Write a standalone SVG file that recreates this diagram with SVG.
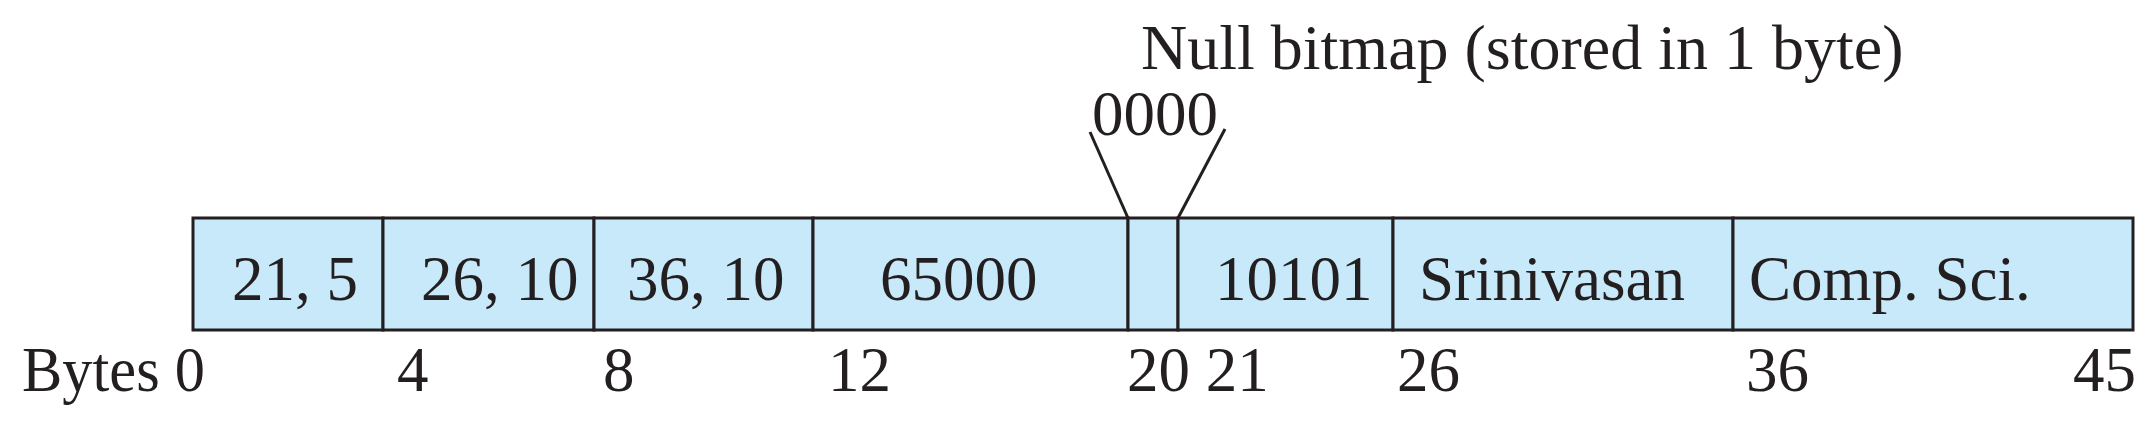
<svg xmlns="http://www.w3.org/2000/svg" width="2156" height="429" viewBox="0 0 2156 429">
<style>
.t{font-family:"Liberation Serif","Times New Roman",serif;font-size:63px;fill:#231F20}
.cell{fill:#C8E9F9;stroke:#231F20;stroke-width:3}
.ln{stroke:#231F20;stroke-width:3;fill:none}
</style>
<rect width="2156" height="429" fill="#FFFFFF"/>
<g id="field-21-5"><rect class="cell" x="193" y="218" width="190" height="112"/><text class="t" x="232" y="300">21, 5</text></g>
<g id="field-26-10"><rect class="cell" x="383" y="218" width="211" height="112"/><text class="t" x="421" y="300">26, 10</text></g>
<g id="field-36-10"><rect class="cell" x="594" y="218" width="219" height="112"/><text class="t" x="627" y="300">36, 10</text></g>
<g id="field-65000"><rect class="cell" x="813" y="218" width="315" height="112"/><text class="t" x="880" y="300">65000</text></g>
<g id="field-null-bitmap"><rect class="cell" x="1128" y="218" width="50" height="112"/></g>
<g id="field-10101"><rect class="cell" x="1178" y="218" width="215" height="112"/><text class="t" x="1215" y="300">10101</text></g>
<g id="field-srinivasan"><rect class="cell" x="1393" y="218" width="340" height="112"/><text class="t" x="1419" y="300">Srinivasan</text></g>
<g id="field-comp-sci"><rect class="cell" x="1733" y="218" width="400" height="112"/><text class="t" x="1749" y="300">Comp. Sci.</text></g>
<g id="null-bitmap-label"><text class="t" x="1141" y="69" style="font-size:64px">Null bitmap (stored in 1 byte)</text><text class="t" x="1092" y="135">0000</text></g>
<g id="connectors"><line class="ln" x1="1090" y1="132" x2="1128" y2="218"/><line class="ln" x1="1225" y1="129" x2="1178" y2="218"/></g>
<g id="byte-offsets">
<text class="t" x="22" y="391" textLength="183" lengthAdjust="spacingAndGlyphs">Bytes 0</text>
<text class="t" x="397" y="391">4</text>
<text class="t" x="603" y="391">8</text>
<text class="t" x="828" y="391">12</text>
<text class="t" x="1127" y="391">20 21</text>
<text class="t" x="1397" y="391">26</text>
<text class="t" x="1746" y="391">36</text>
<text class="t" x="2136" y="391" text-anchor="end">45</text>
</g>
</svg>
